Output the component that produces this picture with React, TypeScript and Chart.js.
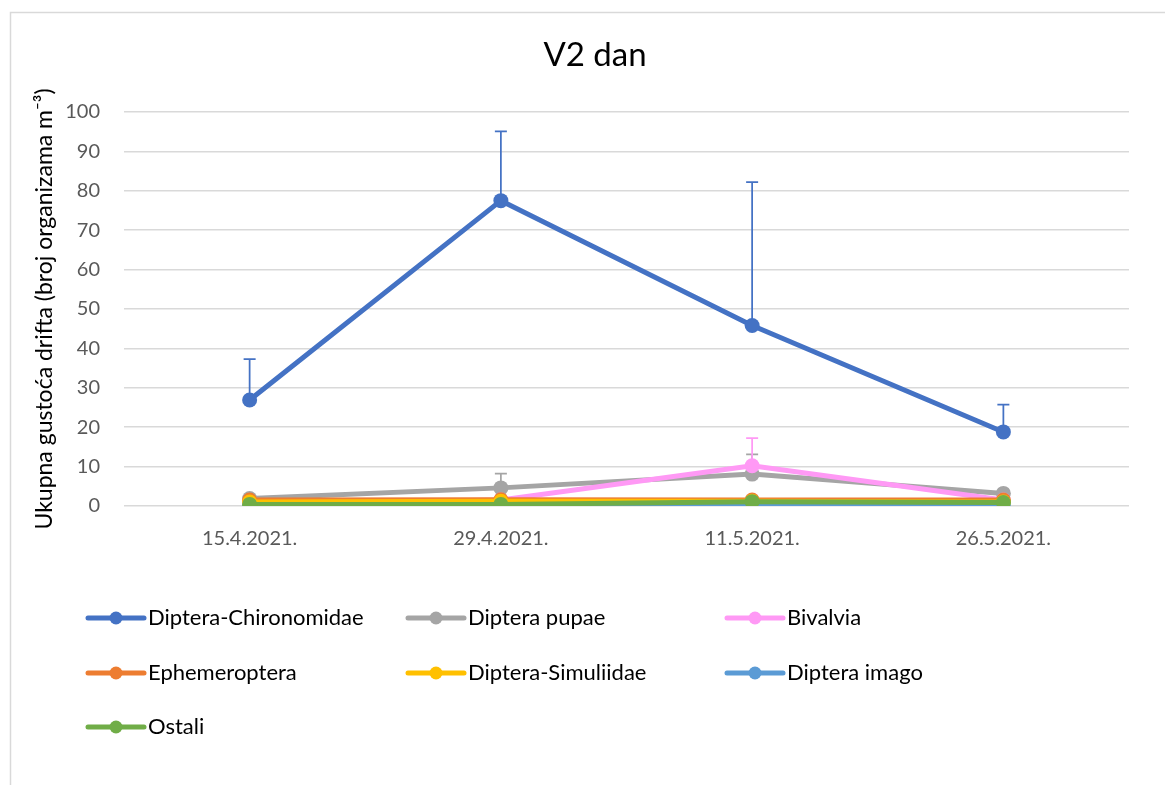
import React, { useEffect, useRef } from "react";
import { Chart, registerables } from "chart.js";

Chart.register(...registerables);

const chartTitle = "V2 dan";
const yAxisTitle = "Ukupna gustoća drifta (broj organizama m⁻³)";

const categories = ["15.4.2021.", "29.4.2021.", "11.5.2021.", "26.5.2021."];

const seriesNames = [
  "Diptera-Chironomidae",
  "Diptera pupae",
  "Bivalvia",
  "Ephemeroptera",
  "Diptera-Simuliidae",
  "Diptera imago",
  "Ostali",
];

const chironomidae = [26.9, 77.5, 45.8, 18.8];
const dipteraPupae = [1.9, 4.6, 8.1, 3.2];
const bivalvia = [0.5, 1.5, 10.2, 1.5];
const ephemeroptera = [1.5, 1.6, 1.5, 1.5];
const simuliidae = [1.0, 1.2, 1.2, 1.0];
const dipteraImago = [0, 0, 0, 0];
const ostali = [0.4, 0.4, 1.1, 0.9];

const chironomidaeErr = [10.4, 17.6, 36.4, 6.9];
const pupaeErr = [0, 3.6, 5.0, 0];
const bivalviaErr = [0, 0, 7.0, 0];
const zeroErr = [0, 0, 0, 0];

const colors = ["#4472C4", "#A5A5A5", "#FF99F5", "#ED7D31", "#FFC000", "#5B9BD5", "#70AD47"];

const seriesValues = [chironomidae, dipteraPupae, bivalvia, ephemeroptera, simuliidae, dipteraImago, ostali];
const seriesErrors = [chironomidaeErr, pupaeErr, bivalviaErr, zeroErr, zeroErr, zeroErr, zeroErr];

const yTicks = [0, 10, 20, 30, 40, 50, 60, 70, 80, 90, 100];

const FONT = "Lato, 'Open Sans', sans-serif";

const boxPlugin = {
  id: "outerBox",
  beforeDraw(chart: any) {
    const ctx = chart.ctx;
    ctx.save();
    ctx.fillStyle = "#ffffff";
    ctx.fillRect(0, 0, chart.width, chart.height);
    ctx.strokeStyle = "#d9d9d9";
    ctx.lineWidth = 1.5;
    ctx.strokeRect(10.5, 12.5, chart.width + 20, chart.height + 20);
    ctx.fillStyle = "#000000";
    ctx.font = `33px ${FONT}`;
    ctx.textAlign = "center";
    ctx.textBaseline = "middle";
    ctx.fillText(chartTitle, 595, 55);
    ctx.restore();
  },
};

const errorBarPlugin = {
  id: "errorBars",
  beforeDatasetsDraw(chart: any) {
    const ctx = chart.ctx;
    const yScale = chart.scales.y;
    chart.data.datasets.forEach((ds: any, i: number) => {
      const meta = chart.getDatasetMeta(i);
      const errs = ds.errorPlus || [];
      meta.data.forEach((pt: any, j: number) => {
        const e = errs[j];
        if (!e) return;
        const v = ds.data[j];
        const top = yScale.getPixelForValue(v + e);
        ctx.save();
        ctx.strokeStyle = ds.borderColor;
        ctx.lineWidth = 1.75;
        ctx.beginPath();
        ctx.moveTo(pt.x, pt.y);
        ctx.lineTo(pt.x, top);
        ctx.moveTo(pt.x - 6, top);
        ctx.lineTo(pt.x + 6, top);
        ctx.stroke();
        ctx.restore();
      });
    });
  },
};

const legendPlugin = {
  id: "gridLegend",
  afterDraw(chart: any) {
    const ctx = chart.ctx;
    const colX = [88, 408, 727];
    const rowY = [618, 673, 727];
    ctx.save();
    chart.data.datasets.forEach((ds: any, i: number) => {
      const x = colX[i % 3];
      const y = rowY[Math.floor(i / 3)];
      ctx.strokeStyle = ds.borderColor;
      ctx.lineWidth = 5;
      ctx.lineCap = "round";
      ctx.beginPath();
      ctx.moveTo(x, y);
      ctx.lineTo(x + 56, y);
      ctx.stroke();
      ctx.fillStyle = ds.borderColor;
      ctx.beginPath();
      ctx.arc(x + 28, y, 6.5, 0, Math.PI * 2);
      ctx.fill();
      ctx.fillStyle = "#000000";
      ctx.font = `22px ${FONT}`;
      ctx.textBaseline = "middle";
      ctx.textAlign = "left";
      ctx.fillText(ds.label, x + 60, y);
    });
    ctx.restore();
  },
};

export default function App() {
  const ref = useRef<HTMLCanvasElement | null>(null);

  useEffect(() => {
    if (!ref.current) return;
    const datasets = seriesNames.map((name, i) => ({
      label: name,
      data: seriesValues[i],
      errorPlus: seriesErrors[i],
      borderColor: colors[i],
      backgroundColor: colors[i],
      pointBackgroundColor: colors[i],
      pointBorderColor: colors[i],
      borderWidth: 5,
      pointRadius: 7.5,
      pointBorderWidth: 0,
      tension: 0,
      order: seriesNames.length - i,
    }));

    const chart = new Chart(ref.current, {
      type: "line",
      data: { labels: categories, datasets: datasets as any },
      plugins: [boxPlugin, errorBarPlugin, legendPlugin],
      options: {
        animation: false,
        responsive: false,
        layout: { padding: { top: 112, left: 27, right: 36, bottom: 219 } },
        plugins: {
          legend: { display: false },
          tooltip: { enabled: false },
          title: { display: false },
        },
        scales: {
          x: {
            type: "category",
            offset: true,
            grid: { display: false, drawTicks: false },
            border: { display: false },
            ticks: {
              color: "#595959",
              font: { family: FONT, size: 20 },
              padding: 21,
            },
            afterFit: (scale: any) => {
              scale.height = 60;
            },
          },
          y: {
            min: 0,
            max: 100,
            afterBuildTicks: (scale: any) => {
              scale.ticks = yTicks.map((v) => ({ value: v }));
            },
            grid: { color: "#d9d9d9", lineWidth: 1.5, drawTicks: false },
            border: { display: false },
            ticks: {
              color: "#595959",
              font: { family: FONT, size: 20 },
              padding: 24,
            },
            title: {
              display: true,
              text: yAxisTitle,
              color: "#000000",
              font: { family: FONT, size: 23, weight: "normal" },
              padding: { top: 4, bottom: 4 },
            },
            afterFit: (scale: any) => {
              scale.width = 97;
            },
          },
        },
      },
    });
    return () => chart.destroy();
  }, []);

  return (
    <div style={{ position: "absolute", left: 0, top: 0, width: 1165, height: 785 }}>
      <canvas ref={ref} width={1165} height={785} style={{ width: 1165, height: 785 }} />
    </div>
  );
}
